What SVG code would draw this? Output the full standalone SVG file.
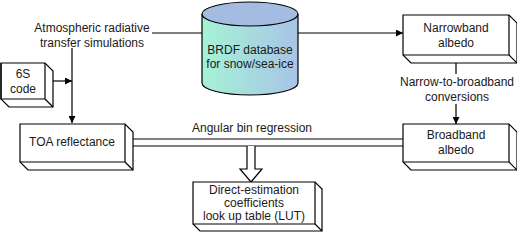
<svg xmlns="http://www.w3.org/2000/svg" width="517" height="233" viewBox="0 0 517 233">
<defs>
<style>
text{font-family:"Liberation Sans",Arial,sans-serif;font-size:12px;fill:#1a1a1a;text-anchor:middle}
.box{fill:#fff;stroke:#000;stroke-width:1.2}
.ln{fill:none;stroke:#000;stroke-width:1.2}
</style>
<marker id="ah" viewBox="0 0 10 10" refX="10" refY="5" markerWidth="7" markerHeight="7" markerUnits="userSpaceOnUse" orient="auto"><path d="M0,0L10,5L0,10z" fill="#000"/></marker>
<linearGradient id="cyl" x1="0" y1="0" x2="1" y2="0"><stop offset="0" stop-color="#a6f2d6"/><stop offset="1" stop-color="#a8c4e6"/></linearGradient>
</defs>
<rect width="517" height="233" fill="#fff"/>
<g id="connectors">
<path class="ln" d="M72,48V123" marker-end="url(#ah)"/>
<path class="ln" d="M53,81H72" marker-end="url(#ah)"/>
<path class="ln" d="M152,33H202"/>
<path class="ln" d="M298,33H403" marker-end="url(#ah)"/>
<path class="ln" d="M456,63V74"/>
<path class="ln" d="M456,104V124" marker-end="url(#ah)"/>
<path class="ln" d="M133,139H403M133,146H403"/>
<path class="box" d="M247,146V169H240L251,182L262,169H255V146"/>
<text x="252" y="132">Angular bin regression</text>
<text x="92" y="32">Atmospheric radiative</text>
<text x="92" y="47">transfer simulations</text>
<text x="457" y="86">Narrow-to-broadband</text>
<text x="457" y="101">conversions</text>
</g>
<g id="db">
<path d="M202,14V83A48,12 0 0 0 298,83V14" fill="url(#cyl)" stroke="#000" stroke-width="1.2"/>
<ellipse cx="250" cy="14" rx="48" ry="12" fill="#a4bce2" stroke="#000" stroke-width="1.2"/>
<text x="250" y="54">BRDF database</text>
<text x="250" y="68">for snow/sea-ice</text>
</g>
<g id="sixs">
<path class="box" d="M1,63H45L53,71V107H9L1,99Z"/>
<path class="ln" d="M1,63V99H45V63M45,99L53,107"/>
<text x="23" y="78">6S</text>
<text x="23" y="93">code</text>
</g>
<g id="toa">
<path class="box" d="M20,124H125L133,132V170H28L20,162Z"/>
<path class="ln" d="M20,162H125V124M125,162L133,170"/>
<text x="72" y="146">TOA reflectance</text>
</g>
<g id="narrow">
<path class="box" d="M403,15H509L517,23V63H411L403,55Z"/>
<path class="ln" d="M403,55H509V15M509,55L517,63"/>
<text x="456" y="32">Narrowband</text>
<text x="456" y="47">albedo</text>
</g>
<g id="broad">
<path class="box" d="M403,124H509L517,132V170H411L403,162Z"/>
<path class="ln" d="M403,162H509V124M509,162L517,170"/>
<text x="456" y="139">Broadband</text>
<text x="456" y="154">albedo</text>
</g>
<g id="lut">
<path class="box" d="M193,182H315L322,189V231H200L193,224Z"/>
<path class="ln" d="M193,224H315V182M315,224L322,231"/>
<text x="254" y="194">Direct-estimation</text>
<text x="254" y="207">coefficients</text>
<text x="254" y="220">look up table (LUT)</text>
</g>
</svg>
